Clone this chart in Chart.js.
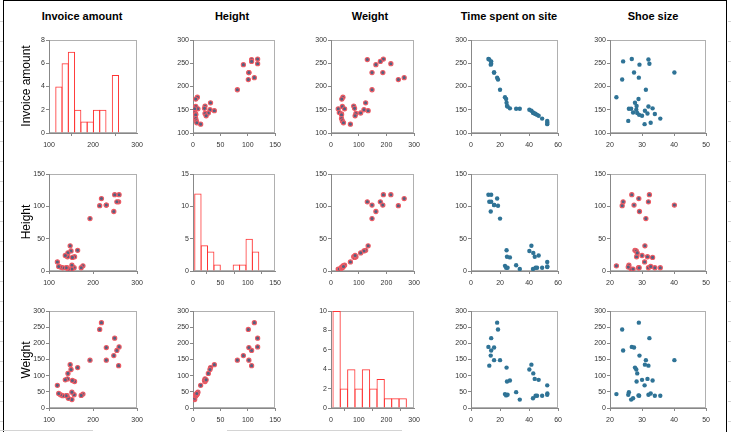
<!DOCTYPE html>
<html><head><meta charset="utf-8">
<script src="https://cdn.jsdelivr.net/npm/chart.js@4.4.0/dist/chart.umd.min.js"></script>
<style>
html,body{margin:0;padding:0;background:#fff;width:731px;height:432px;overflow:hidden;font-family:"Liberation Sans",Arial,sans-serif;}
canvas{position:absolute;}
.t{position:absolute;font-weight:bold;font-size:11px;color:#000;transform:translateX(-50%);white-space:nowrap;}
.yt{position:absolute;font-size:12px;color:#000;transform:translate(-50%,-50%) rotate(-90deg);white-space:nowrap;}
#frame{position:absolute;left:3px;top:0px;width:722px;height:440px;border:1.5px solid #000;}
.g{position:absolute;height:1px;background:#d4d4d4;}
</style></head><body>
<div id="frame"></div>
<script>
// ---- data: one value per customer record ----
const invoiceAmount = [259,258,254,249,247,230,230,219,215,193,177,173,165,158,157,153,152,152,150,148,144,143,142,141,139,137,131,126,122,119];
const height        = [118,107,107,118,92,102,102,112,101,81,8,5,32,22,5,21,9,3,31,39,3,28,22,5,5,24,5,6,7,14];
const weight        = [189,131,178,216,162,187,148,264,243,148,43,39,125,82,41,85,49,26,119,134,30,107,90,38,38,87,38,41,45,70];
const timeOnSite    = [12.0,12.6,13.9,13.9,13.6,15.9,15.9,18.0,18.6,20.0,23.4,24.2,24.5,24.8,25.2,26.8,31.1,33.6,40.2,41.6,42.7,42.9,43.9,44.5,45.5,46.6,49.0,52.5,52.6,52.5];
const shoeSize      = [26.8,32.0,24.1,32.3,29.2,27.5,40.1,29.0,23.8,31.2,22.0,28.9,27.8,28.3,32.0,33.3,25.9,26.6,28.2,30.9,27.2,28.5,31.7,34.0,29.1,30.0,35.7,25.7,32.7,30.8];

// histogram bins (centres) and counts
const invoiceBins   = [122.4,136.7,150.9,165.2,179.4,193.7,207.9,222.2,236.4,250.7];
const invoiceCounts = [4,6,7,2,1,1,2,2,0,5];
const heightBins    = [8.95,20.65,32.35,44.05,55.75,67.45,79.15,90.85,102.55,114.25];
const heightCounts  = [12,4,3,1,0,0,1,1,5,3];
const weightBins    = [20.2,46.7,73.2,99.7,126.2,152.7,179.2,205.7,232.2,258.7];
const weightCounts  = [10,2,4,2,4,2,3,1,1,1];

const varNames = ["Invoice amount","Height","Weight","Time spent on site","Shoe size"];
const colVars  = [invoiceAmount,height,weight,timeOnSite,shoeSize];
const rowVars  = [invoiceAmount,height,weight];
const xTicks = [[100,300,100],[0,150,50],[0,300,100],[0,60,20],[20,50,10]];
const yTicks = [[100,300,50],[0,150,50],[0,300,50]];
const histTicks = [[0,8,2],[0,15,5],[0,10,2]];
const hists = [[invoiceBins,invoiceCounts],[heightBins,heightCounts],[weightBins,weightCounts]];
// colour of the marks in each panel: h = histogram, r = red markers, b = blue markers
const panelColour = [["h","r","r","b","b"],["r","h","r","b","r"],["r","r","h","b","b"]];

// layout of plot areas
const colL = [49,193,331,471,610];
const colW = [91,85,86,88,97];
const rowT = [40,174,311];
const rowH = [93,97,97];

const plotFrame = {id:'plotFrame', beforeDraw(chart){
  const a=chart.chartArea, c=chart.ctx; c.save(); c.strokeStyle='#b0b0b0'; c.lineWidth=1;
  c.strokeRect(Math.round(a.left)+0.5, Math.round(a.top)+0.5, Math.round(a.right-a.left)-1, Math.round(a.bottom-a.top)-1); c.restore();
}};

const PADL=30, PADT=6, PADR=8, PADB=22;
function axis(rng, isX){
  return {type:'linear', min:rng[0], max:rng[1], offset:false,
    afterFit(s){ if(isX) s.height=PADB; else s.width=PADL; },
    ticks:{stepSize:rng[2], color:'#333', font:{family:'Liberation Sans', size:7}, padding: isX?5:1, maxRotation:0, autoSkip:false},
    grid:{drawOnChartArea:false, drawTicks:true, tickLength:3, color:'#888'},
    border:{display:true, color:'#888', width:1}};
}
function panel(r, c){
  const L=colL[c], T=rowT[r], W=colW[c], H=rowH[r];
  const cv=document.createElement('canvas');
  cv.width=W+PADL+PADR; cv.height=H+PADT+PADB;
  cv.style.left=(L-PADL)+'px'; cv.style.top=(T-PADT)+'px';
  document.body.appendChild(cv);
  let cfg;
  if(panelColour[r][c]==='h'){
    const [bins,counts]=hists[r];
    const gapPx = (bins[1]-bins[0])*W/(xTicks[c][1]-xTicks[c][0]);
    cfg={type:'bar', data:{datasets:[{data:bins.map((b,i)=>({x:b,y:counts[i]})), backgroundColor:'rgba(255,255,255,0)', borderColor:'#ff3434', borderWidth:1, borderSkipped:'bottom', barPercentage:1+1/gapPx, categoryPercentage:1}]},
      options:{scales:{x:axis(xTicks[c],true), y:axis(histTicks[r],false)}}};
  } else {
    const X=colVars[c], Y=rowVars[r];
    const red = panelColour[r][c]==='r';
    cfg={type:'scatter', data:{datasets:[{data:X.map((x,i)=>({x:x,y:Y[i]})),
        backgroundColor: red?'#56607f':'#2f7396', borderColor: red?'#ee5a63':'#2f7396',
        borderWidth: red?1.1:0, pointRadius: red?2.1:2.2}]},
      options:{scales:{x:axis(xTicks[c],true), y:axis(yTicks[r],false)}}};
  }
  cfg.options.responsive=false; cfg.options.animation=false; cfg.options.devicePixelRatio=1;
  cfg.options.layout={padding:{top:PADT,right:PADR,left:0,bottom:0}};
  cfg.options.plugins={legend:{display:false},tooltip:{enabled:false}};
  cfg.options.events=[];
  cfg.plugins=[plotFrame];
  new Chart(cv,cfg);
}
for(let r=0;r<3;r++) for(let c=0;c<5;c++) panel(r,c);

// titles
const titleX=[82,232,370,509,653];
varNames.forEach((n,i)=>{const d=document.createElement('div');d.className='t';d.textContent=n;d.style.left=titleX[i]+'px';d.style.top='10px';document.body.appendChild(d);});
const yTitleY=[86,222,360];
[0,1,2].forEach(i=>{const d=document.createElement('div');d.className='yt';d.textContent=varNames[i];d.style.left='26px';d.style.top=yTitleY[i]+'px';document.body.appendChild(d);});

// faint spreadsheet cell lines outside the chart object
function gl(x,y,w){const d=document.createElement('div');d.className='g';d.style.left=x+'px';d.style.top=y+'px';d.style.width=w+'px';document.body.appendChild(d);}
for(let y=21;y<432;y+=20){ gl(0,y,3); gl(728,y,3); }
gl(0,430,93); gl(227,430,175);
</script>
</body></html>
